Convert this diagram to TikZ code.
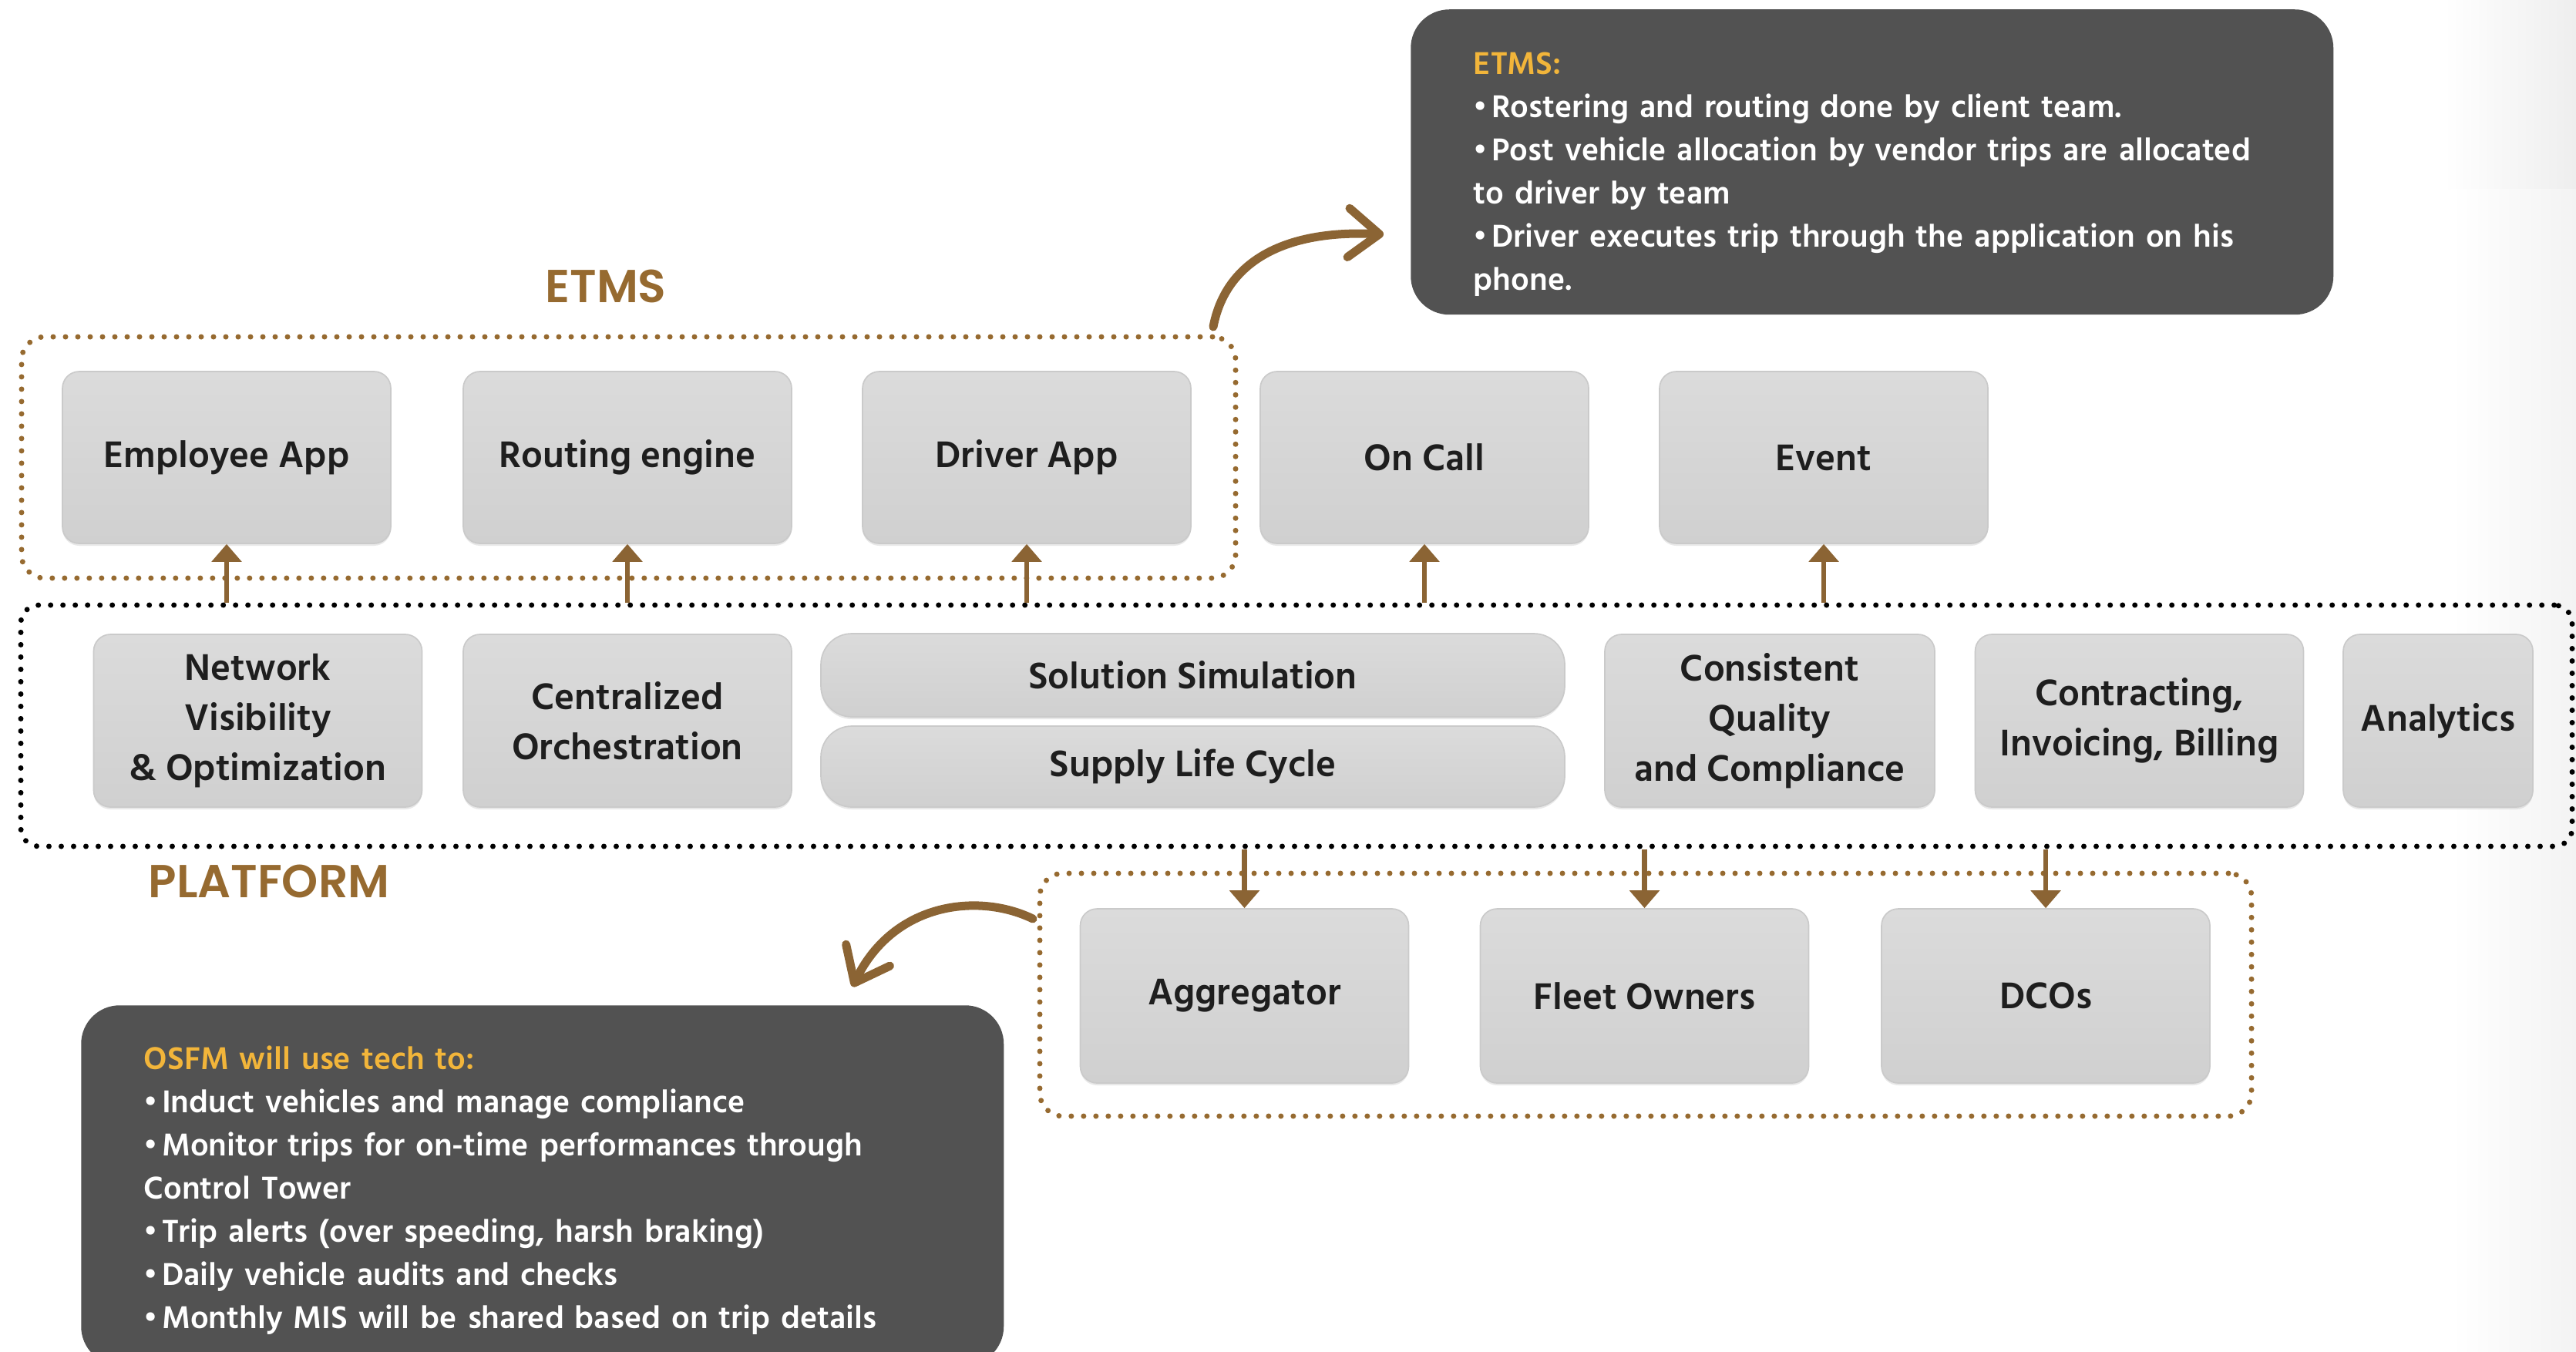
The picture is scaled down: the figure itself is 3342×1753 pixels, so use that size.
\documentclass[tikz,border=0pt]{standalone}
\usepackage{fontspec}
\setmainfont{Hind Siliguri}
\newfontfamily\boxfont{Hind Siliguri SemiBold}
\newfontfamily\notefont{Hind Siliguri SemiBold}
\newfontfamily\headfont{Poppins SemiBold}
\usetikzlibrary{arrows.meta,shadows}

\definecolor{headbrown}{HTML}{966A30}
\definecolor{arrowbrown}{HTML}{8B6434}
\definecolor{noteorange}{HTML}{F2B53A}
\definecolor{notegray}{HTML}{525252}
\definecolor{boxtop}{HTML}{DBDBDB}
\definecolor{boxbot}{HTML}{D0D0D0}
\definecolor{boxedge}{HTML}{CACACA}
\definecolor{textdark}{HTML}{1E1E1E}
\definecolor{bgshade}{HTML}{EEEEEE}

\tikzset{every picture/.style={line width=0.75pt}}
\tikzset{
  module/.style={draw=boxedge, line width=0.5pt, top color=boxtop, bottom color=boxbot,
    rounded corners=6.5pt, minimum width=127.8pt, minimum height=66.9pt, inner sep=2pt,
    align=center, text=textdark, font=\boxfont\fontsize{14.8pt}{19.5pt}\selectfont,
    drop shadow={shadow xshift=0pt, shadow yshift=-0.9pt, opacity=0.18}},
  pill/.style={module, rounded corners=12pt, minimum width=289.5pt},
  brownframe/.style={draw=headbrown, line width=2.1pt, line cap=round,
    dash pattern=on 0pt off 4.8pt, rounded corners=9pt, minimum height=93.9pt, inner sep=0pt},
  blackframe/.style={brownframe, draw=black, rounded corners=7pt},
  flow/.style={draw=arrowbrown, line width=2pt, -{Triangle[length=6.9pt,width=11.4pt]}},
  swoop/.style={draw=arrowbrown, line width=3.3pt, line cap=round,
    -{Straight Barb[length=12pt,width=19pt,round]}},
  note/.style={fill=notegray, rounded corners=15pt, text=white, align=left, anchor=north west,
    inner xsep=24.5pt, text width=310.1pt, font=\notefont\fontsize{12.6pt}{16.8pt}\selectfont},
  heading/.style={text=headbrown, inner sep=0pt, font=\headfont\fontsize{18pt}{20pt}\selectfont}
}
\newcommand{\pt}{•\hspace{0.12em}}

\begin{document}
\begin{tikzpicture}[x=0.3pt,y=0.3pt,yscale=-1,xscale=1]
\useasboundingbox (0,0) rectangle (3342,1753);

% faint shading at the right edge
\fill[left color=white, right color=bgshade] (3170,0) rectangle (3342,245);
\fill[left color=white, right color=bgshade!70!white] (3180,245) rectangle (3342,1753);

% dotted frames
\node[brownframe, minimum width=472.5pt] (etmsframe) at (815.5,593.5) {};
\node[blackframe, minimum width=993pt] (platform) at (1682,941.5) {};
\node[brownframe, minimum width=471.6pt, minimum height=94.5pt] (supplyframe) at (2135,1290.5) {};

% group titles
\node[heading] (etmstitle) at (786,371) {ETMS};
\node[heading] (plattitle) at (349,1143) {PLATFORM};

% top row
\node[module] (emp) at (294,593.5) {Employee App};
\node[module] (route) at (814,593.5) {Routing engine};
\node[module] (drvapp) at (1332,593.5) {Driver App};
\node[module] (oncall) at (1848,593.5) {On Call};
\node[module] (event) at (2366,593.5) {Event};

% platform row
\node[module, minimum height=67.2pt] (netvis) at (334.5,935) {Network\\Visibility\\\& Optimization};
\node[module, minimum height=67.2pt] (central) at (814,935) {Centralized\\Orchestration};
\node[pill, minimum height=32.4pt] (solsim) at (1547.5,876) {Solution Simulation};
\node[pill, minimum height=31.5pt] (supply) at (1547.5,994.5) {Supply Life Cycle};
\node[module, minimum width=128.4pt, minimum height=67.2pt] (quality) at (2296,935) {Consistent\\Quality\\and Compliance};
\node[module, minimum height=67.2pt] (billing) at (2775.5,935) {Contracting,\\Invoicing, Billing};
\node[module, minimum width=73.8pt, minimum height=67.2pt] (analytics) at (3163,935) {Analytics};

% supply row
\node[module, minimum height=67.8pt] (agg) at (1614.5,1292) {Aggregator};
\node[module, minimum height=67.8pt] (fleet) at (2133.5,1292) {Fleet Owners};
\node[module, minimum height=67.8pt] (dco) at (2654,1292) {DCOs};

% platform to top row
\foreach \n in {emp,route,drvapp,oncall,event}
  \draw[flow] (\n.south |- platform.north) -- (\n.south);

% platform to supply row
\foreach \n in {agg,fleet,dco}
  \draw[flow] (\n.north |- platform.south) -- (\n.north);

% notes
\node[note, minimum height=118.8pt] (etmsnote) at (1829,11)
  {\rule{0pt}{18pt}{\color{noteorange}ETMS:}\\
   \pt Rostering and routing done by client team.\\
   \pt Post vehicle allocation by vendor trips are allocated\\
   to driver by team\\
   \pt Driver executes trip through the application on his\\
   phone.};
\node[note, minimum height=140pt] (osfmnote) at (104,1303)
  {\rule{0pt}{13pt}{\color{noteorange}OSFM will use tech to:}\\
   \pt Induct vehicles and manage compliance\\
   \pt Monitor trips for on-time performances through\\
   Control Tower\\
   \pt Trip alerts (over speeding, harsh braking)\\
   \pt Daily vehicle audits and checks\\
   \pt Monthly MIS will be shared based on trip details};

% curved pointers
\coordinate (etmstail) at (1574,424);
\coordinate (etmstip) at (1795,304);
\draw[swoop] (etmstail) .. controls (1590,340) and (1665,298) .. (etmstip);
\coordinate (osfmtail) at (1340,1192);
\coordinate (osfmtip) at (1106,1280);
\draw[swoop] (osfmtail) .. controls (1270,1158) and (1160,1170) .. (osfmtip);

\end{tikzpicture}
\end{document}
